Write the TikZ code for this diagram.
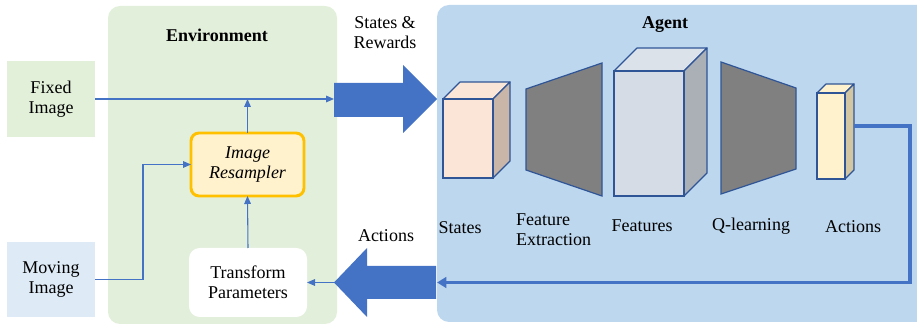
\documentclass[tikz,border=0pt]{standalone}
\usepackage{fontspec}
\setmainfont{Liberation Serif}
\newfontfamily\tnr{Liberation Serif}
\usetikzlibrary{arrows.meta}
\definecolor{envgreen}{HTML}{E2EFDA}
\definecolor{fixgreen}{HTML}{E2F0D9}
\definecolor{movblue}{HTML}{DEEBF7}
\definecolor{agentblue}{HTML}{BDD7EE}
\definecolor{arrblue}{HTML}{4472C4}
\definecolor{edgeblue}{HTML}{2F5597}
\definecolor{resorange}{HTML}{FFC000}
\definecolor{resfill}{HTML}{FFF2CC}
\definecolor{stfront}{HTML}{FBE5D6}
\definecolor{stside}{HTML}{C9B6A8}
\definecolor{ftfront}{HTML}{D6DCE5}
\definecolor{ftside}{HTML}{ABAFB6}
\definecolor{ftop}{HTML}{DCE2EA}
\definecolor{acside}{HTML}{D3C6A2}
\newcommand\mycube[8]{%
  \filldraw[draw=edgeblue,line width=0.9pt,line join=round,fill=#8] (#1,#2) -- (#1+#3,#2) -- (#1+#3+#5,#2-#5) -- (#1+#5,#2-#5) -- cycle;
  \filldraw[draw=edgeblue,line width=0.9pt,line join=round,fill=#7] (#1+#3,#2) -- (#1+#3+#5,#2-#5) -- (#1+#3+#5,#2+#4-#5) -- (#1+#3,#2+#4) -- cycle;
  \filldraw[draw=edgeblue,line width=0.9pt,fill=#6] (#1,#2) rectangle (#1+#3,#2+#4);
}
\tikzset{
  lbl/.style={font=\tnr\fontsize{13.5}{15}\selectfont, align=center, inner sep=0pt},
  ttl/.style={font=\tnr\fontsize{13.5}{15}\selectfont\bfseries, inner sep=0pt},
  box/.style={inner sep=0pt, outer sep=0pt, font=\tnr\fontsize{13.5}{15}\selectfont, align=center},
  thin arrow/.style={draw=arrblue, line width=0.8pt, -{Triangle[width=5pt,length=6pt]}},
  loop arrow/.style={draw=arrblue, line width=2.4pt, -{Triangle[width=8pt,length=7pt]}},
}
\begin{document}
\begin{tikzpicture}[x=0.75pt,y=-0.75pt]
\useasboundingbox (0,0) rectangle (917,327);
\clip (0,0) rectangle (917,327);
% containers
\node[box, fill=envgreen, rounded corners=9pt, minimum width=171.75pt, minimum height=238.5pt] (env) at (222.5,165) {};
\node[box, fill=agentblue, rounded corners=9pt, minimum width=369.75pt, minimum height=237.75pt] (agent) at (683.5,163.5) {};
\node[ttl] (envt) at (217,35) {Environment};
\node[ttl] (agentt) at (665,25) {Agent};
% environment nodes
\node[box, fill=fixgreen, minimum width=66pt, minimum height=57pt] (fixed) at (51,99) {Fixed\\Image};
\node[box, fill=movblue, minimum width=66pt, minimum height=56.25pt] (moving) at (51,279.5) {Moving\\Image};
\node[box, fill=resfill, draw=resorange, line width=2.2pt, rounded corners=6pt, minimum width=84.75pt, minimum height=47.25pt] (resampler) at (247.5,164.5) {\itshape Image\\\itshape Resampler};
\node[box, fill=white, rounded corners=8pt, minimum width=88.5pt, minimum height=51.75pt] (transform) at (248,282.5) {Transform\\Parameters};
% big arrows
\fill[arrblue] (334,83) -- (403,83) -- (403,65) -- (437,99) -- (403,133) -- (403,117) -- (334,117) -- cycle;
\coordinate (sr) at (334,99);
\fill[arrblue] (436,266) -- (367,266) -- (367,248) -- (334,282.5) -- (367,317) -- (367,299) -- (436,299) -- cycle;
\coordinate (act) at (334,282.5);
\node[lbl] (srl) at (385,33) {States \&\\Rewards};
\node[lbl] (actl) at (386,236) {Actions};
% env connectors
\draw[thin arrow] (fixed.east) -- (sr);
\draw[thin arrow] (resampler.north) -- (resampler.north |- sr);
\draw[thin arrow] (moving.east) -- ++(48,0) |- (resampler.west);
\draw[thin arrow] (transform.north) -- (resampler.south);
\draw[thin arrow] (act) -- (transform.east);
% agent network
\mycube{443}{99}{50}{79}{17}{stfront}{stside}{stfront}
\filldraw[draw=edgeblue, line width=0.9pt, fill=gray] (526,89) -- (602,63) -- (602,196) -- (526,170) -- cycle;
\mycube{614}{71}{70}{125}{23}{ftfront}{ftside}{ftop}
\filldraw[draw=edgeblue, line width=0.9pt, fill=gray] (721,62) -- (796,88) -- (796,169) -- (721,194) -- cycle;
\mycube{817}{93}{28}{86}{9}{resfill}{acside}{resfill}
\coordinate (actout) at (854,126);
\coordinate (corner) at (910,126);
\draw[loop arrow] (actout) -- (corner) -- (corner |- act) -- (agent.west |- act);
% agent labels
\node[lbl] (l1) at (460,228) {States};
\node[lbl, align=left] (l2) at (553.5,230) {Feature\\Extraction};
\node[lbl] (l3) at (642,226) {Features};
\node[lbl] (l4) at (751,226) {Q-learning};
\node[lbl] (l5) at (853,227) {Actions};
\end{tikzpicture}
\end{document}
